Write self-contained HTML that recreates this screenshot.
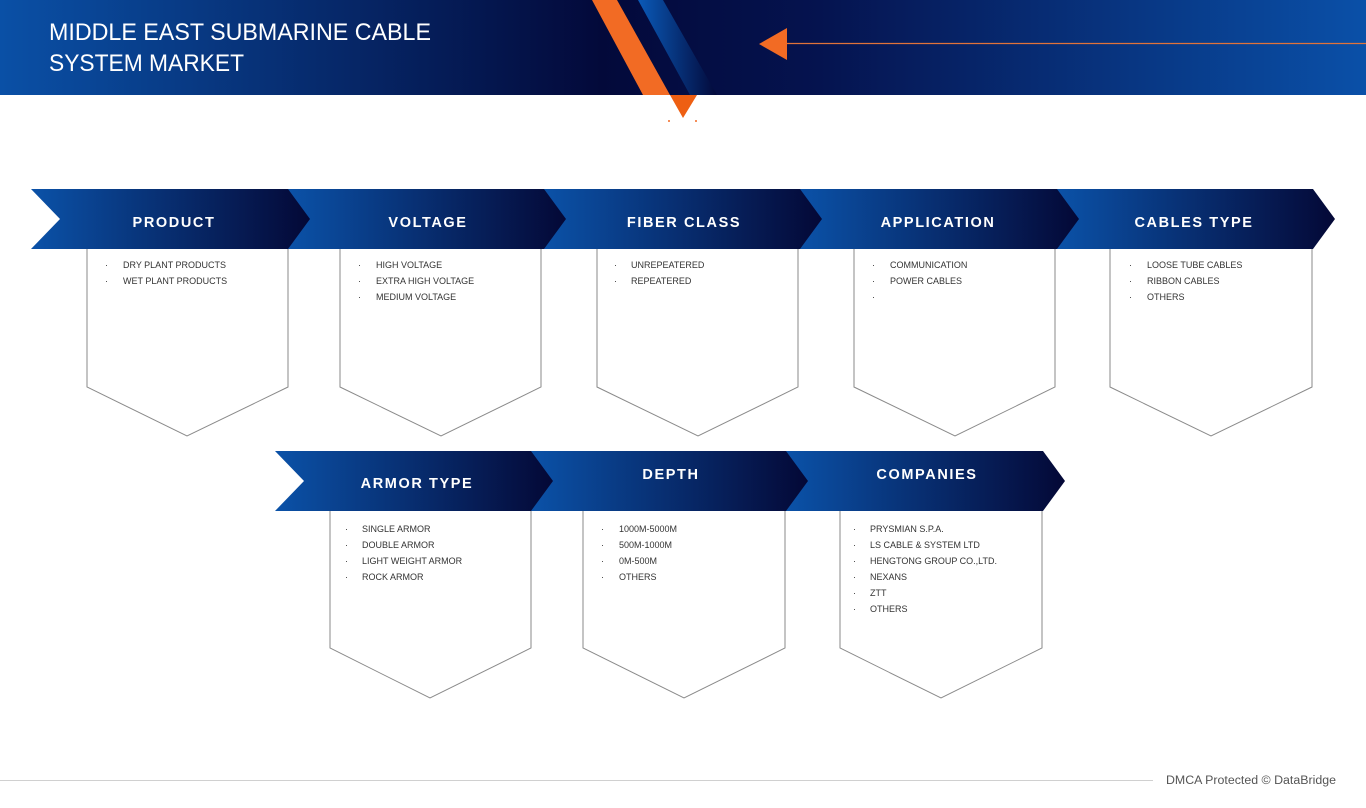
<!DOCTYPE html>
<html><head><meta charset="utf-8"><style>
html,body{margin:0;padding:0;background:#fff;}
svg{display:block;}
text{font-family:"Liberation Sans",sans-serif;}
.h{fill:#fff;font-weight:bold;font-size:14.5px;letter-spacing:1.6px;text-anchor:middle;}
.i{fill:#333;font-size:9px;}
</style></head><body>
<svg width="1366" height="808" viewBox="0 0 1366 808" xmlns="http://www.w3.org/2000/svg">
<defs>
<linearGradient id="hdr" x1="0" x2="1" y1="0" y2="0">
<stop offset="0" stop-color="#0a50a6"/><stop offset="0.44" stop-color="#03093a"/><stop offset="0.6" stop-color="#05134f"/><stop offset="1" stop-color="#0a50a8"/>
</linearGradient>
<linearGradient id="chev" x1="0" x2="1" y1="0" y2="0">
<stop offset="0" stop-color="#0b52a8"/><stop offset="1" stop-color="#040836"/>
</linearGradient>
<linearGradient id="bst" x1="0" x2="1" y1="0" y2="0">
<stop offset="0" stop-color="#0a5ab8"/><stop offset="1" stop-color="#03093a"/>
</linearGradient>
</defs>
<rect x="0" y="0" width="1366" height="95" fill="url(#hdr)"/>
<polygon points="638,0 663,0 717,95 690,95" fill="url(#bst)"/>
<polygon points="592,0 617,0 670,95 643,95" fill="#f26b24"/>
<polygon points="670,95 697,95 683,118" fill="#ee5f12"/>
<circle cx="669" cy="121" r="1" fill="#f26b24"/><circle cx="696" cy="121" r="1" fill="#f26b24"/>
<polygon points="759,44 787,28 787,60" fill="#f26b24"/>
<line x1="787" y1="43.5" x2="1366" y2="43.5" stroke="#e0733a" stroke-width="1.2"/>
<text x="49" y="40" fill="#fff" font-size="24" textLength="382" lengthAdjust="spacingAndGlyphs">MIDDLE EAST SUBMARINE CABLE</text>
<text x="49" y="71" fill="#fff" font-size="24" textLength="195" lengthAdjust="spacingAndGlyphs">SYSTEM MARKET</text>

<g fill="#fff" stroke="#8a8a8a" stroke-width="1">
<path d="M87,249 V387 L187,436 L288,387 V249"/>
<path d="M340,249 V387 L441,436 L541,387 V249"/>
<path d="M597,249 V387 L698,436 L798,387 V249"/>
<path d="M854,249 V387 L955,436 L1055,387 V249"/>
<path d="M1110,249 V387 L1211,436 L1312,387 V249"/>
<path d="M330,511 V648 L430,698 L531,648 V511"/>
<path d="M583,511 V648 L684,698 L785,648 V511"/>
<path d="M840,511 V648 L941,698 L1042,648 V511"/>
</g>

<g fill="url(#chev)">
<path d="M1057,189 H1313 L1335,219 L1313,249 H1057 Z"/>
<path d="M800,189 H1057 L1079,219 L1057,249 H800 Z"/>
<path d="M543,189 H800 L822,219 L800,249 H543 Z"/>
<path d="M288,189 H544 L566,219 L544,249 H288 Z"/>
<path d="M31,189 H288 L310,219 L288,249 H31 L60,219 Z"/>
<path d="M786,451 H1043 L1065,481 L1043,511 H786 Z"/>
<path d="M531,451 H786 L808,481 L786,511 H531 Z"/>
<path d="M275,451 H531 L553,481 L531,511 H275 L304,481 Z"/>
</g>
<text class="h" x="174" y="227">PRODUCT</text>
<text class="h" x="428" y="227">VOLTAGE</text>
<text class="h" x="684" y="227">FIBER CLASS</text>
<text class="h" x="938" y="227">APPLICATION</text>
<text class="h" x="1194" y="227">CABLES TYPE</text>
<text class="h" x="417" y="488">ARMOR TYPE</text>
<text class="h" x="671" y="479">DEPTH</text>
<text class="h" x="927" y="479">COMPANIES</text>

<g class="i">
<text x="105" y="268">·</text><text x="123" y="268">DRY PLANT PRODUCTS</text>
<text x="105" y="284">·</text><text x="123" y="284">WET PLANT PRODUCTS</text>
<text x="358" y="268">·</text><text x="376" y="268">HIGH VOLTAGE</text>
<text x="358" y="284">·</text><text x="376" y="284">EXTRA HIGH VOLTAGE</text>
<text x="358" y="300">·</text><text x="376" y="300">MEDIUM VOLTAGE</text>
<text x="614" y="268">·</text><text x="631" y="268">UNREPEATERED</text>
<text x="614" y="284">·</text><text x="631" y="284">REPEATERED</text>
<text x="872" y="268">·</text><text x="890" y="268">COMMUNICATION</text>
<text x="872" y="284">·</text><text x="890" y="284">POWER CABLES</text>
<text x="872" y="300">·</text>
<text x="1129" y="268">·</text><text x="1147" y="268">LOOSE TUBE CABLES</text>
<text x="1129" y="284">·</text><text x="1147" y="284">RIBBON CABLES</text>
<text x="1129" y="300">·</text><text x="1147" y="300">OTHERS</text>
<text x="345" y="532">·</text><text x="362" y="532">SINGLE ARMOR</text>
<text x="345" y="548">·</text><text x="362" y="548">DOUBLE ARMOR</text>
<text x="345" y="564">·</text><text x="362" y="564">LIGHT WEIGHT ARMOR</text>
<text x="345" y="580">·</text><text x="362" y="580">ROCK ARMOR</text>
<text x="601" y="532">·</text><text x="619" y="532">1000M-5000M</text>
<text x="601" y="548">·</text><text x="619" y="548">500M-1000M</text>
<text x="601" y="564">·</text><text x="619" y="564">0M-500M</text>
<text x="601" y="580">·</text><text x="619" y="580">OTHERS</text>
<text x="853" y="532">·</text><text x="870" y="532">PRYSMIAN S.P.A.</text>
<text x="853" y="548">·</text><text x="870" y="548">LS CABLE &amp; SYSTEM LTD</text>
<text x="853" y="564">·</text><text x="870" y="564">HENGTONG GROUP CO.,LTD.</text>
<text x="853" y="580">·</text><text x="870" y="580">NEXANS</text>
<text x="853" y="596">·</text><text x="870" y="596">ZTT</text>
<text x="853" y="612">·</text><text x="870" y="612">OTHERS</text>
</g>

<line x1="0" y1="780.5" x2="1153" y2="780.5" stroke="#d0d0d0" stroke-width="1"/>
<text x="1166" y="784" fill="#555" font-size="11.5" textLength="170" lengthAdjust="spacingAndGlyphs">DMCA Protected © DataBridge</text>
</svg>
</body></html>
